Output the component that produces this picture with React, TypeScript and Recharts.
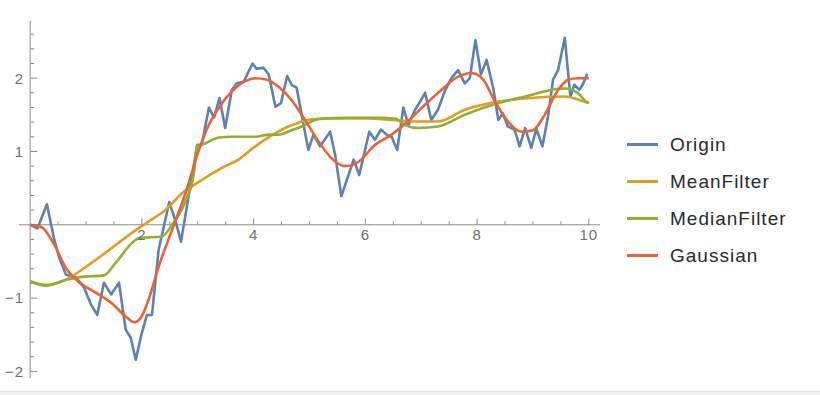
import { LineChart, Line, XAxis, YAxis, ReferenceLine, ReferenceDot } from 'recharts';

// noisy source signal
const originX = [
  0, 0.13, 0.3, 0.43, 0.52, 0.64, 0.82, 0.96, 1.09, 1.2, 1.32, 1.45, 1.59, 1.71, 1.8, 1.89, 2.0, 2.09, 2.18,
  2.3, 2.49, 2.61, 2.7, 2.99, 3.07, 3.2, 3.29, 3.39, 3.49, 3.61, 3.7, 3.82, 3.98, 4.05, 4.18, 4.27, 4.39,
  4.49, 4.6, 4.68, 4.77, 4.86, 4.98, 5.07, 5.19, 5.37, 5.46, 5.57, 5.66, 5.79, 5.89, 6.07, 6.17, 6.28, 6.38,
  6.47, 6.57, 6.68, 6.77, 6.89, 6.98, 7.07, 7.18, 7.3, 7.42, 7.54, 7.66, 7.78, 7.87, 7.97, 8.07, 8.17, 8.29,
  8.38, 8.46, 8.55, 8.67, 8.76, 8.86, 8.97, 9.06, 9.17, 9.27, 9.36, 9.45, 9.57, 9.67, 9.74, 9.83, 9.89, 9.97,
];
const originY = [
  0, -0.05, 0.28, -0.2, -0.45, -0.68, -0.72, -0.85, -1.09, -1.23, -0.79, -0.95, -0.79, -1.43, -1.54, -1.84,
  -1.47, -1.23, -1.23, -0.34, 0.31, 0.03, -0.23, 1.09, 1.09, 1.6, 1.46, 1.73, 1.32, 1.84, 1.93, 1.95, 2.2,
  2.13, 2.14, 2.05, 1.61, 1.66, 2.03, 1.91, 1.87, 1.5, 1.02, 1.23, 1.07, 1.27, 0.95, 0.39, 0.59, 0.89, 0.68,
  1.27, 1.16, 1.3, 1.23, 1.2, 1.02, 1.6, 1.36, 1.57, 1.68, 1.8, 1.43, 1.57, 1.82, 2.0, 2.11, 1.93, 2.0, 2.52,
  2.05, 2.25, 1.86, 1.43, 1.52, 1.34, 1.3, 1.07, 1.32, 1.05, 1.31, 1.07, 1.48, 1.98, 2.11, 2.55, 1.75, 1.91,
  1.84, 1.91, 2.06,
];

const meanX = [
  0, 0.28, 0.64, 0.93, 1.35, 1.82, 2.13, 2.42, 2.72, 3.07, 3.49, 3.73, 4.03, 4.39, 4.62, 4.8, 5.04, 5.5, 6.0,
  6.5, 6.82, 7.3, 7.78, 8.38, 8.97, 9.57, 9.92, 10,
];
const meanY = [
  -0.77, -0.82, -0.75, -0.61, -0.38, -0.11, 0.05, 0.2, 0.43, 0.61, 0.8, 0.89, 1.07, 1.25, 1.34, 1.39, 1.44,
  1.45, 1.45, 1.43, 1.41, 1.41, 1.57, 1.68, 1.73, 1.75, 1.68, 1.66,
];

const medianX = [
  0, 0.28, 0.64, 0.93, 1.32, 1.53, 1.82, 1.95, 2.36, 2.54, 2.79, 2.93, 2.98, 3.07, 3.38, 3.61, 4.03, 4.27,
  4.45, 4.68, 4.86, 5.04, 5.21, 5.64, 6.23, 6.53, 6.71, 6.95, 7.3, 7.78, 8.38, 8.97, 9.32, 9.57, 9.8, 9.95, 10,
];
const medianY = [
  -0.77, -0.83, -0.75, -0.71, -0.69, -0.52, -0.25, -0.18, -0.16, 0.0, 0.34, 0.7, 1.07, 1.09, 1.19, 1.2, 1.2,
  1.23, 1.23, 1.29, 1.34, 1.41, 1.45, 1.46, 1.46, 1.45, 1.36, 1.32, 1.34, 1.5, 1.66, 1.77, 1.84, 1.86, 1.8,
  1.68, 1.66,
];

const gaussX = [
  0, 0.2, 0.43, 0.64, 0.87, 1.18, 1.46, 1.71, 1.86, 1.98, 2.12, 2.3, 2.54, 2.78, 3.02, 3.16, 3.38, 3.61, 3.85,
  4.03, 4.24, 4.45, 4.68, 4.92, 5.16, 5.39, 5.64, 5.88, 6.17, 6.47, 6.77, 7.07, 7.36, 7.66, 7.9, 8.11, 8.32,
  8.55, 8.79, 9.0, 9.21, 9.45, 9.63, 9.8, 10,
];
const gaussY = [
  0, -0.03, -0.27, -0.59, -0.78, -0.93, -1.07, -1.25, -1.33, -1.27, -1.02, -0.57, -0.07, 0.43, 1.02, 1.3, 1.6,
  1.82, 1.96, 2.0, 1.98, 1.88, 1.7, 1.43, 1.14, 0.91, 0.8, 0.86, 1.09, 1.23, 1.42, 1.64, 1.84, 2.02, 2.07,
  1.98, 1.68, 1.41, 1.27, 1.29, 1.5, 1.84, 1.98, 2.0, 2.0,
];

const xMajorTicks = [2, 4, 6, 8, 10];
const xMinorTicks = [0.5, 1, 1.5, 2.5, 3, 3.5, 4.5, 5, 5.5, 6.5, 7, 7.5, 8.5, 9, 9.5];
const yMajorTicks = [-2, -1, 1, 2];
const yMinorTicks = [
  -1.8, -1.6, -1.4, -1.2, -0.8, -0.6, -0.4, -0.2, 0.2, 0.4, 0.6, 0.8, 1.2, 1.4, 1.6, 1.8, 2.2, 2.4, 2.6,
];
const yTickLabels = ['−2', '−1', '1', '2'];

const zip = (xs: number[], ys: number[]) => xs.map((x, i) => ({ x, y: ys[i] }));

const series = [
  { name: 'Origin', color: '#5E81B5', data: zip(originX, originY), curve: 'linear' },
  { name: 'MeanFilter', color: '#E19C24', data: zip(meanX, meanY), curve: 'monotone' },
  { name: 'MedianFilter', color: '#8FB032', data: zip(medianX, medianY), curve: 'monotone' },
  { name: 'Gaussian', color: '#EB6235', data: zip(gaussX, gaussY), curve: 'monotone' },
];

const AXIS = '#8a8a8a';
const FONT = '"Liberation Sans", Arial, sans-serif';
const tickText = { fill: '#707070', fontSize: 15, fontFamily: FONT, letterSpacing: 1 };

export default function App() {
  return (
    <div style={{ position: 'absolute', left: 0, top: 0, width: 820, height: 395, background: '#fff', overflow: 'hidden' }}>
      <LineChart width={620} height={395} margin={{ top: 21, right: 20, bottom: 17, left: 19 }}>
        <XAxis type="number" dataKey="x" domain={[-0.2, 10.2]} allowDataOverflow hide />
        <YAxis type="number" dataKey="y" domain={[-2.09, 2.78]} allowDataOverflow hide />

        <ReferenceLine y={0} stroke={AXIS} strokeWidth={1} />
        <ReferenceLine x={0} stroke={AXIS} strokeWidth={1} />
        {xMajorTicks.map((t) => (
          <ReferenceLine key={'xM' + t} segment={[{ x: t, y: 0 }, { x: t, y: 0.085 }]} stroke={AXIS} />
        ))}
        {xMinorTicks.map((t) => (
          <ReferenceLine key={'xm' + t} segment={[{ x: t, y: 0 }, { x: t, y: 0.045 }]} stroke={AXIS} />
        ))}
        {yMajorTicks.map((t) => (
          <ReferenceLine key={'yM' + t} segment={[{ x: 0, y: t }, { x: 0.125, y: t }]} stroke={AXIS} />
        ))}
        {yMinorTicks.map((t) => (
          <ReferenceLine key={'ym' + t} segment={[{ x: 0, y: t }, { x: 0.072, y: t }]} stroke={AXIS} />
        ))}
        {xMajorTicks.map((t) => (
          <ReferenceDot
            key={'xl' + t}
            x={t}
            y={0}
            r={0}
            fill="none"
            stroke="none"
            label={{ value: String(t), position: 'bottom', offset: 5, ...tickText }}
          />
        ))}
        {yMajorTicks.map((t, i) => (
          <ReferenceDot
            key={'yl' + t}
            x={0}
            y={t}
            r={0}
            fill="none"
            stroke="none"
            label={{ value: yTickLabels[i], position: 'left', offset: 6, ...tickText }}
          />
        ))}

        {series.map((s) => (
          <Line
            key={s.name}
            data={s.data}
            dataKey="y"
            name={s.name}
            type={s.curve as 'linear' | 'monotone'}
            stroke={s.color}
            strokeWidth={2.6}
            strokeLinejoin="round"
            dot={false}
            activeDot={false}
            isAnimationActive={false}
          />
        ))}
      </LineChart>

      <div style={{ position: 'absolute', left: 627, top: 126, fontFamily: FONT }}>
        {series.map((s) => (
          <div key={s.name} style={{ display: 'flex', alignItems: 'center', height: 37 }}>
            <span style={{ width: 31, height: 2.6, background: s.color, marginRight: 12 }} />
            <span style={{ fontSize: 19, letterSpacing: 1, color: '#2a2a2a' }}>{s.name}</span>
          </div>
        ))}
      </div>

      <div style={{ position: 'absolute', left: 0, top: 391, width: 820, height: 4, background: '#eef0f2', borderTop: '1px solid #dfe2e5' }} />
    </div>
  );
}
